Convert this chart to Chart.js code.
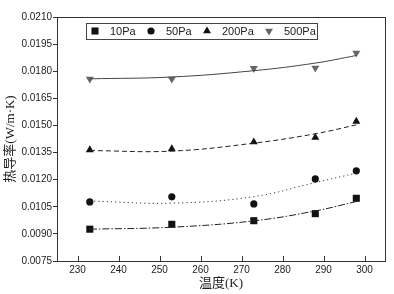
<!DOCTYPE html>
<html>
<head>
<meta charset="utf-8">
<script src="https://cdn.jsdelivr.net/npm/chart.js@4/dist/chart.umd.min.js"></script>
<style>
  html, body { margin: 0; padding: 0; background: #fff; }
  #wrap { width: 394px; height: 294px; }
</style>
</head>
<body>
<div id="wrap"><canvas id="myChart" width="394" height="294"></canvas></div>
<script>
// temperatures (K)
let temps = [233, 253, 273, 288, 298]
let names = ['10Pa', '50Pa', '200Pa', '500Pa']

// measured points
let p10 = [0.00926, 0.00953, 0.00973, 0.01012, 0.01097]
let p50 = [0.01077, 0.01105, 0.01066, 0.01204, 0.01249]
let p200 = [0.01365, 0.01370, 0.01408, 0.01433, 0.01522]
let p500 = [0.01757, 0.01757, 0.01816, 0.01818, 0.01901]

// fitted curves at the same temperatures
let f10 = [0.00926, 0.00937, 0.00972, 0.01027, 0.01079]
let f50 = [0.01082, 0.01070, 0.01106, 0.01184, 0.01236]
let f200 = [0.01361, 0.01358, 0.01402, 0.01454, 0.01503]
let f500 = [0.01758, 0.01768, 0.01803, 0.01845, 0.01887]

let xTicks = [230, 240, 250, 260, 270, 280, 290, 300]
let yTicks = [0.0075, 0.0090, 0.0105, 0.0120, 0.0135, 0.0150, 0.0165, 0.0180, 0.0195, 0.0210]

function pts(ys) {
    return temps.map((t, i) => ({x: t, y: ys[i]}))
}

let markerStyles = [
    {pointStyle: 'rect', radius: 5, rotation: 0, color: '#111'},
    {pointStyle: 'circle', radius: 3.6, rotation: 0, color: '#111'},
    {pointStyle: 'triangle', radius: 4.6, rotation: 0, color: '#111'},
    {pointStyle: 'triangle', radius: 4.6, rotation: 180, color: '#666'}
]
let lineStyles = [
    {dash: [7, 2, 1.5, 2], color: '#222'},
    {dash: [1.2, 3], color: '#333'},
    {dash: [5, 3], color: '#222'},
    {dash: [], color: '#444'}
]

let pointSets = [p10, p50, p200, p500]
let fitSets = [f10, f50, f200, f500]
let datasets = []

fitSets.forEach((f, i) => {
    datasets.push({
        label: names[i] + ' fit',
        data: pts(f),
        showLine: true,
        tension: 0.4,
        borderColor: lineStyles[i].color,
        borderWidth: 1,
        borderDash: lineStyles[i].dash,
        pointRadius: 0,
        fill: false
    })
})
pointSets.forEach((p, i) => {
    let m = markerStyles[i]
    datasets.push({
        label: names[i],
        data: pts(p),
        showLine: false,
        pointStyle: m.pointStyle,
        pointRadius: m.radius,
        rotation: m.rotation,
        backgroundColor: m.color,
        borderColor: m.color,
        borderWidth: 0
    })
})

// frame, inward x ticks and the boxed legend
let framePlugin = {
    id: 'frame',
    afterDraw(chart) {
        let ctx = chart.ctx, a = chart.chartArea
        ctx.save()
        ctx.strokeStyle = '#333'
        ctx.lineWidth = 1
        ctx.strokeRect(a.left + 0.5, a.top + 0.5, a.right - a.left, a.bottom - a.top)
        let xs = chart.scales.x
        xTicks.forEach(t => {
            let px = Math.round(xs.getPixelForValue(t)) + 0.5
            ctx.beginPath()
            ctx.moveTo(px, a.bottom)
            ctx.lineTo(px, a.bottom - 5)
            ctx.stroke()
        })

        // legend
        ctx.strokeStyle = '#444'
        ctx.strokeRect(86.5, 23.5, 231, 16)
        let markX = [95, 151, 207, 269]
        ctx.font = '11px "Liberation Sans", Arial, sans-serif'
        ctx.textBaseline = 'middle'
        markX.forEach((mx, i) => {
            let m = markerStyles[i]
            ctx.fillStyle = m.color
            ctx.strokeStyle = m.color
            Chart.helpers.drawPoint(ctx, {pointStyle: m.pointStyle, radius: m.radius, rotation: m.rotation, borderWidth: 0}, mx, 31)
            ctx.fillStyle = '#222'
            ctx.fillText(names[i], mx + 15, 31.5)
        })
        ctx.restore()
    }
}

let ctx = document.getElementById('myChart').getContext('2d')
let myChart = new Chart(ctx, {
    type: 'scatter',
    data: {datasets: datasets},
    options: {
        responsive: false,
        animation: false,
        layout: {padding: {top: 17, right: 9, left: 0, bottom: 0}},
        plugins: {legend: {display: false}, tooltip: {enabled: false}},
        scales: {
            x: {
                type: 'linear',
                min: 225,
                max: 305,
                afterBuildTicks: s => { s.ticks = xTicks.map(v => ({value: v})) },
                afterFit: s => { s.height = 33 },
                grid: {display: true, drawOnChartArea: false, drawTicks: false},
                border: {display: false},
                ticks: {
                    padding: 3,
                    color: '#222',
                    font: {family: '"Liberation Sans", Arial, sans-serif', size: 10},
                    callback: v => String(v)
                },
                title: {
                    display: true,
                    text: '温度(K)',
                    color: '#222',
                    font: {family: '"Liberation Serif", "Noto Sans CJK SC", serif', size: 13},
                    padding: {top: 0, bottom: 3}
                }
            },
            y: {
                min: 0.0075,
                max: 0.0210,
                afterBuildTicks: s => { s.ticks = yTicks.map(v => ({value: v})) },
                afterFit: s => { s.width = 57 },
                grid: {drawOnChartArea: false, drawTicks: true, tickLength: 4, color: '#333'},
                border: {display: false},
                ticks: {
                    padding: 1,
                    color: '#222',
                    font: {family: '"Liberation Sans", Arial, sans-serif', size: 10},
                    callback: v => v.toFixed(4)
                },
                title: {
                    display: true,
                    text: '热导率(W/m·K)',
                    color: '#222',
                    font: {family: '"Liberation Serif", "Noto Sans CJK SC", serif', size: 13},
                    padding: {top: 3, bottom: 0}
                }
            }
        }
    },
    plugins: [framePlugin]
})
</script>
</body>
</html>
